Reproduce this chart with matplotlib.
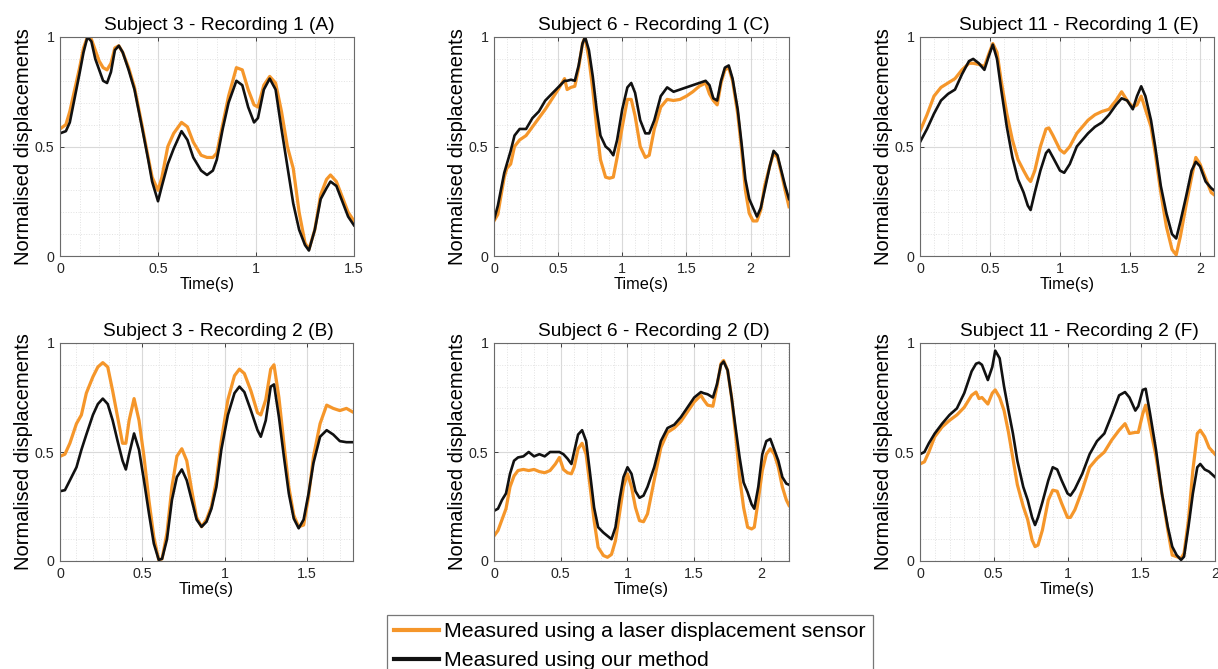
import matplotlib
matplotlib.use("Agg")
import matplotlib.pyplot as plt
from matplotlib.ticker import MultipleLocator, FuncFormatter

plt.rcParams["font.family"] = ["Liberation Sans", "DejaVu Sans"]

LASER_COLOR = "#f5962a"
OURS_COLOR = "#111111"

# Subject 3 - Recording 1 (A)
t_a = [0, 0.03, 0.05, 0.07, 0.1, 0.12, 0.14, 0.16, 0.18, 0.2, 0.22, 0.24, 0.26, 0.28, 0.3,
       0.32, 0.35, 0.38, 0.4, 0.42, 0.45, 0.47, 0.5, 0.52, 0.55, 0.58, 0.62, 0.65, 0.68, 0.72,
       0.75, 0.78, 0.8, 0.83, 0.86, 0.9, 0.93, 0.96, 0.99, 1.01, 1.04, 1.07, 1.1, 1.13, 1.16,
       1.19, 1.22, 1.25, 1.27, 1.3, 1.33, 1.36, 1.38, 1.41, 1.44, 1.47, 1.5]
laser_a = [0.58, 0.60, 0.66, 0.74, 0.86, 0.95, 1.0, 0.99, 0.94, 0.89, 0.86, 0.85, 0.88, 0.95, 0.96,
           0.93, 0.86, 0.77, 0.68, 0.59, 0.45, 0.36, 0.30, 0.36, 0.50, 0.56, 0.61, 0.59, 0.52, 0.46,
           0.45, 0.45, 0.47, 0.60, 0.73, 0.86, 0.85, 0.76, 0.69, 0.68, 0.78, 0.82, 0.79, 0.66, 0.50,
           0.40, 0.20, 0.06, 0.03, 0.12, 0.28, 0.35, 0.37, 0.34, 0.27, 0.20, 0.16]
ours_a = [0.56, 0.57, 0.61, 0.70, 0.835, 0.93, 1.0, 0.98, 0.90, 0.85, 0.80, 0.79, 0.84, 0.94, 0.96,
          0.93, 0.85, 0.76, 0.67, 0.58, 0.44, 0.34, 0.25, 0.32, 0.42, 0.49, 0.57, 0.53, 0.45, 0.39,
          0.37, 0.39, 0.44, 0.58, 0.70, 0.80, 0.78, 0.68, 0.61, 0.63, 0.76, 0.81, 0.76, 0.58, 0.41,
          0.24, 0.12, 0.05, 0.025, 0.12, 0.26, 0.31, 0.34, 0.32, 0.25, 0.18, 0.14]

# Subject 3 - Recording 2 (B)
t_b = [0, 0.03, 0.06, 0.1, 0.13, 0.16, 0.2, 0.23, 0.26, 0.29, 0.32, 0.35, 0.38, 0.4, 0.42,
       0.45, 0.48, 0.51, 0.54, 0.57, 0.6, 0.62, 0.65, 0.68, 0.71, 0.74, 0.77, 0.8, 0.83, 0.86,
       0.89, 0.92, 0.95, 0.98, 1.02, 1.06, 1.09, 1.12, 1.16, 1.2, 1.22, 1.25, 1.28, 1.3, 1.33,
       1.36, 1.39, 1.42, 1.45, 1.48, 1.51, 1.54, 1.58, 1.62, 1.66, 1.7, 1.74, 1.775]
laser_b = [0.48, 0.49, 0.54, 0.63, 0.67, 0.77, 0.845, 0.89, 0.91, 0.89, 0.78, 0.66, 0.54, 0.54, 0.645,
           0.745, 0.645, 0.48, 0.28, 0.11, 0.005, 0.01, 0.13, 0.34, 0.48, 0.515, 0.46, 0.325, 0.20, 0.157,
           0.19, 0.25, 0.37, 0.55, 0.74, 0.85, 0.88, 0.86, 0.78, 0.68, 0.67, 0.74, 0.88, 0.90, 0.75,
           0.54, 0.34, 0.21, 0.157, 0.165, 0.295, 0.48, 0.63, 0.715, 0.70, 0.69, 0.70, 0.685]
ours_b = [0.32, 0.325, 0.37, 0.43, 0.51, 0.58, 0.67, 0.72, 0.745, 0.72, 0.645, 0.55, 0.46, 0.42, 0.49,
          0.585, 0.51, 0.37, 0.22, 0.08, 0.005, 0.01, 0.10, 0.28, 0.385, 0.42, 0.37, 0.28, 0.19, 0.157,
          0.18, 0.24, 0.34, 0.51, 0.67, 0.77, 0.80, 0.775, 0.69, 0.60, 0.57, 0.645, 0.80, 0.81, 0.66,
          0.48, 0.31, 0.195, 0.15, 0.19, 0.31, 0.45, 0.57, 0.60, 0.58, 0.55, 0.545, 0.545]

# Subject 6 - Recording 1 (C)
t_c = [0, 0.03, 0.05, 0.08, 0.1, 0.13, 0.16, 0.2, 0.25, 0.3, 0.35, 0.4, 0.45, 0.5, 0.55,
       0.57, 0.6, 0.63, 0.66, 0.69, 0.71, 0.74, 0.77, 0.8, 0.83, 0.87, 0.9, 0.93, 0.96, 1.0,
       1.04, 1.07, 1.1, 1.14, 1.18, 1.21, 1.25, 1.3, 1.35, 1.4, 1.45, 1.5, 1.55, 1.6, 1.65,
       1.68, 1.71, 1.74, 1.77, 1.8, 1.83, 1.86, 1.9, 1.93, 1.96, 1.99, 2.02, 2.05, 2.08, 2.11,
       2.15, 2.18, 2.21, 2.24, 2.27, 2.3]
laser_c = [0.16, 0.19, 0.26, 0.36, 0.40, 0.42, 0.50, 0.53, 0.55, 0.59, 0.63, 0.67, 0.715, 0.76, 0.81,
           0.76, 0.77, 0.775, 0.86, 0.97, 1.0, 0.90, 0.76, 0.59, 0.44, 0.36, 0.355, 0.36, 0.45, 0.59,
           0.715, 0.715, 0.64, 0.50, 0.45, 0.46, 0.58, 0.68, 0.715, 0.71, 0.715, 0.73, 0.75, 0.775, 0.79,
           0.74, 0.71, 0.69, 0.79, 0.85, 0.86, 0.80, 0.65, 0.49, 0.30, 0.195, 0.16, 0.16, 0.21, 0.32,
           0.41, 0.47, 0.45, 0.38, 0.30, 0.225]
ours_c = [0.165, 0.23, 0.29, 0.38, 0.42, 0.48, 0.55, 0.58, 0.58, 0.63, 0.66, 0.71, 0.74, 0.77, 0.80,
          0.80, 0.805, 0.80, 0.87, 0.97, 1.0, 0.94, 0.82, 0.67, 0.55, 0.50, 0.485, 0.46, 0.53, 0.67,
          0.77, 0.79, 0.745, 0.62, 0.56, 0.56, 0.62, 0.73, 0.77, 0.75, 0.76, 0.77, 0.78, 0.79, 0.80,
          0.78, 0.72, 0.71, 0.80, 0.86, 0.87, 0.81, 0.67, 0.515, 0.35, 0.26, 0.22, 0.18, 0.22, 0.30,
          0.41, 0.48, 0.46, 0.39, 0.32, 0.26]

# Subject 6 - Recording 2 (D)
t_d = [0, 0.03, 0.06, 0.09, 0.12, 0.15, 0.18, 0.22, 0.26, 0.3, 0.34, 0.38, 0.42, 0.46, 0.49,
       0.52, 0.55, 0.58, 0.6, 0.63, 0.66, 0.69, 0.72, 0.75, 0.78, 0.82, 0.85, 0.88, 0.91, 0.94,
       0.97, 1.0, 1.03, 1.06, 1.09, 1.12, 1.15, 1.2, 1.25, 1.3, 1.35, 1.4, 1.45, 1.5, 1.55,
       1.57, 1.6, 1.64, 1.67, 1.7, 1.72, 1.75, 1.78, 1.81, 1.84, 1.87, 1.9, 1.93, 1.95, 1.98,
       2.01, 2.04, 2.07, 2.1, 2.13, 2.16, 2.19, 2.21]
laser_d = [0.115, 0.14, 0.19, 0.24, 0.34, 0.39, 0.415, 0.42, 0.415, 0.42, 0.41, 0.405, 0.415, 0.445, 0.475,
           0.42, 0.405, 0.40, 0.43, 0.515, 0.54, 0.49, 0.34, 0.185, 0.063, 0.025, 0.017, 0.03, 0.093, 0.216,
           0.34, 0.40, 0.34, 0.245, 0.185, 0.18, 0.216, 0.37, 0.52, 0.59, 0.61, 0.64, 0.685, 0.73, 0.76,
           0.74, 0.715, 0.71, 0.80, 0.905, 0.92, 0.875, 0.75, 0.58, 0.385, 0.245, 0.155, 0.147, 0.155, 0.28,
           0.415, 0.49, 0.515, 0.49, 0.43, 0.34, 0.28, 0.255]
ours_d = [0.23, 0.24, 0.28, 0.31, 0.40, 0.46, 0.475, 0.48, 0.50, 0.48, 0.49, 0.48, 0.50, 0.50, 0.50,
          0.49, 0.47, 0.445, 0.50, 0.58, 0.60, 0.55, 0.40, 0.245, 0.155, 0.13, 0.115, 0.10, 0.155, 0.28,
          0.385, 0.43, 0.40, 0.32, 0.29, 0.30, 0.34, 0.43, 0.55, 0.61, 0.625, 0.66, 0.705, 0.75, 0.775,
          0.77, 0.765, 0.75, 0.81, 0.90, 0.915, 0.875, 0.75, 0.61, 0.475, 0.36, 0.315, 0.26, 0.24, 0.34,
          0.49, 0.55, 0.56, 0.51, 0.46, 0.385, 0.355, 0.35]

# Subject 11 - Recording 1 (E)
t_e = [0, 0.05, 0.1, 0.15, 0.2, 0.25, 0.3, 0.35, 0.38, 0.42, 0.46, 0.49, 0.52, 0.55, 0.58,
       0.62, 0.66, 0.7, 0.74, 0.77, 0.79, 0.82, 0.86, 0.9, 0.92, 0.95, 1.0, 1.03, 1.07, 1.12,
       1.2, 1.25, 1.3, 1.35, 1.4, 1.44, 1.48, 1.52, 1.55, 1.58, 1.61, 1.65, 1.68, 1.72, 1.76,
       1.8, 1.83, 1.86, 1.9, 1.94, 1.97, 2.0, 2.04, 2.08, 2.1]
laser_e = [0.57, 0.645, 0.73, 0.77, 0.79, 0.81, 0.85, 0.88, 0.88, 0.875, 0.865, 0.92, 0.97, 0.93, 0.80,
           0.65, 0.53, 0.44, 0.39, 0.355, 0.34, 0.39, 0.50, 0.58, 0.585, 0.55, 0.485, 0.47, 0.50, 0.56,
           0.62, 0.645, 0.66, 0.67, 0.71, 0.75, 0.71, 0.68, 0.69, 0.73, 0.67, 0.59, 0.47, 0.29, 0.134,
           0.03, 0.005, 0.09, 0.23, 0.36, 0.45, 0.42, 0.355, 0.29, 0.28]
ours_e = [0.52, 0.58, 0.65, 0.71, 0.74, 0.76, 0.83, 0.89, 0.90, 0.88, 0.85, 0.91, 0.965, 0.90, 0.76,
          0.59, 0.45, 0.35, 0.29, 0.23, 0.21, 0.29, 0.39, 0.47, 0.485, 0.45, 0.39, 0.38, 0.42, 0.50,
          0.56, 0.59, 0.61, 0.645, 0.69, 0.72, 0.71, 0.67, 0.73, 0.775, 0.73, 0.62, 0.50, 0.32, 0.195,
          0.10, 0.08, 0.157, 0.27, 0.39, 0.43, 0.41, 0.34, 0.31, 0.30]

# Subject 11 - Recording 2 (F)
t_f = [0, 0.03, 0.06, 0.1, 0.15, 0.2, 0.25, 0.3, 0.35, 0.38, 0.4, 0.42, 0.46, 0.49, 0.51,
       0.54, 0.57, 0.6, 0.63, 0.66, 0.7, 0.73, 0.76, 0.78, 0.8, 0.83, 0.87, 0.9, 0.93, 0.96,
       1.0, 1.02, 1.05, 1.1, 1.15, 1.2, 1.25, 1.3, 1.35, 1.39, 1.42, 1.46, 1.48, 1.51, 1.53,
       1.56, 1.6, 1.64, 1.68, 1.71, 1.74, 1.77, 1.79, 1.82, 1.85, 1.88, 1.9, 1.93, 1.96, 2.0]
laser_f = [0.445, 0.455, 0.50, 0.57, 0.615, 0.645, 0.67, 0.705, 0.76, 0.775, 0.745, 0.75, 0.72, 0.77, 0.785,
           0.75, 0.69, 0.59, 0.47, 0.35, 0.25, 0.19, 0.096, 0.066, 0.073, 0.142, 0.28, 0.325, 0.32, 0.265,
           0.20, 0.20, 0.235, 0.325, 0.43, 0.47, 0.50, 0.555, 0.60, 0.63, 0.585, 0.59, 0.59, 0.675, 0.715,
           0.615, 0.48, 0.31, 0.142, 0.027, 0.02, 0.012, 0.035, 0.188, 0.417, 0.585, 0.60, 0.57, 0.52, 0.49]
ours_f = [0.49, 0.50, 0.54, 0.585, 0.63, 0.67, 0.70, 0.77, 0.87, 0.905, 0.91, 0.90, 0.83, 0.89, 0.965,
          0.93, 0.80, 0.69, 0.585, 0.46, 0.34, 0.28, 0.20, 0.165, 0.20, 0.27, 0.37, 0.43, 0.42, 0.37,
          0.31, 0.30, 0.33, 0.40, 0.49, 0.55, 0.585, 0.67, 0.76, 0.775, 0.75, 0.69, 0.71, 0.785, 0.79,
          0.675, 0.51, 0.31, 0.157, 0.066, 0.027, 0.005, 0.02, 0.157, 0.31, 0.43, 0.445, 0.42, 0.41, 0.385]

panels = [
    ("Subject 3 - Recording 1 (A)", t_a, laser_a, ours_a, 1.5),
    ("Subject 6 - Recording 1 (C)", t_c, laser_c, ours_c, 2.3),
    ("Subject 11 - Recording 1 (E)", t_e, laser_e, ours_e, 2.1),
    ("Subject 3 - Recording 2 (B)", t_b, laser_b, ours_b, 1.78),
    ("Subject 6 - Recording 2 (D)", t_d, laser_d, ours_d, 2.21),
    ("Subject 11 - Recording 2 (F)", t_f, laser_f, ours_f, 2.0),
]

W, H = 1218, 669
fig = plt.figure(figsize=(W / 100, H / 100), dpi=100)

# axes boxes in pixels: left, top, right, bottom
boxes = [
    (60, 37, 354, 256), (494, 37, 789, 256), (920, 37, 1214, 256),
    (60, 343, 353, 561), (494, 343, 789, 561), (920, 343, 1215, 561),
]

fmt = FuncFormatter(lambda v, p: "%g" % v)

for (title, t, laser, ours, xmax), (l, tp, r, b) in zip(panels, boxes):
    ax = fig.add_axes([l / W, 1 - b / H, (r - l) / W, (b - tp) / H])
    ax.plot(t, laser, color=LASER_COLOR, lw=2.3, label="Measured using a laser displacement sensor")
    ax.plot(t, ours, color=OURS_COLOR, lw=1.9, label="Measured using our method")
    ax.set_xlim(0, xmax)
    ax.set_ylim(0, 1)
    ax.xaxis.set_major_locator(MultipleLocator(0.5))
    ax.yaxis.set_major_locator(MultipleLocator(0.5))
    ax.xaxis.set_minor_locator(MultipleLocator(0.1))
    ax.yaxis.set_minor_locator(MultipleLocator(0.1))
    ax.xaxis.set_major_formatter(fmt)
    ax.yaxis.set_major_formatter(fmt)
    ax.grid(which="major", color="#d9d9d9", lw=0.8, ls="-")
    ax.grid(which="minor", color="#e2e2e2", lw=0.7, ls=":")
    ax.set_axisbelow(True)
    ax.tick_params(which="major", direction="in", length=3, width=0.6, labelsize=10.3,
                   top=True, right=True, colors="#262626", pad=4)
    ax.tick_params(which="minor", length=0)
    for s in ax.spines.values():
        s.set_color("#6a6a6a")
        s.set_linewidth(0.8)
    # titles sit slightly right of the axes centre
    ax.set_title(title, fontsize=13.8, pad=5, x=0.5 + 12 / (r - l))
    ax.set_xlabel("Time(s)", fontsize=11.7, labelpad=1)
    ax.set_ylabel("Normalised displacements", fontsize=14.5, labelpad=1)

handles, labels = ax.get_legend_handles_labels()
leg = fig.legend(handles, labels, loc="upper left", bbox_to_anchor=(387 / W, 1 - 615 / H),
                 fontsize=15.3, frameon=True, fancybox=False, borderaxespad=0,
                 handlelength=2.1, handletextpad=0.22, labelspacing=0.45, borderpad=0.35)
leg.get_frame().set_edgecolor("#555555")
leg.get_frame().set_linewidth(0.9)
for line in leg.get_lines():
    line.set_linewidth(3)

fig.savefig("out.png", dpi=100)
